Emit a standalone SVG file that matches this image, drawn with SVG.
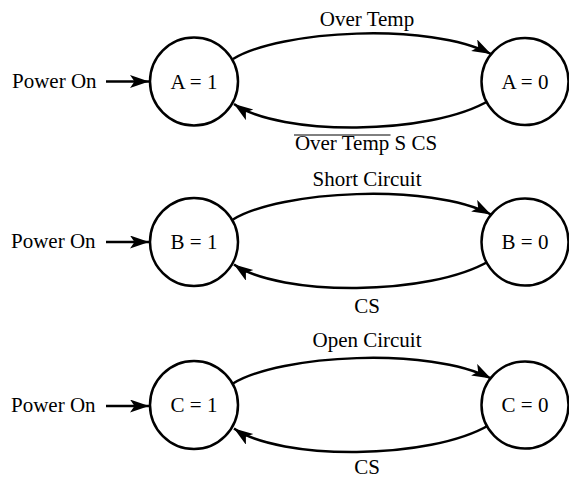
<svg xmlns="http://www.w3.org/2000/svg" width="569" height="479" viewBox="0 0 569 479">
<defs>
<style>
text{font-family:"Liberation Serif","Times New Roman",serif;font-size:21px;fill:#000}
.mid{text-anchor:middle}
.st{fill:#fff;stroke:#000;stroke-width:2.5}
.c{fill:none;stroke:#000;stroke-width:2.5}
</style>
<marker id="ah" markerUnits="userSpaceOnUse" markerWidth="22" markerHeight="14" refX="19" refY="6.5" orient="auto" viewBox="0 0 22 14">
<path d="M0,0 L19,6.5 L0,13 L4.5,6.5 z" fill="#000"/>
</marker>
</defs>
<g id="connectors">
<line class="c" x1="106" y1="81.5" x2="149" y2="81.5" marker-end="url(#ah)"/>
<path class="c" d="M233,59 C280,30 430,22 491,54" marker-end="url(#ah)"/>
<path class="c" d="M490,100 C430,136 280,136 234,104" marker-end="url(#ah)"/>
<line class="c" x1="106" y1="242" x2="149" y2="242" marker-end="url(#ah)"/>
<path class="c" d="M233,219.5 C280,190.5 430,182.5 491,214.5" marker-end="url(#ah)"/>
<path class="c" d="M490,260.5 C430,296.5 280,296.5 234,264.5" marker-end="url(#ah)"/>
<line class="c" x1="106" y1="406" x2="149" y2="406" marker-end="url(#ah)"/>
<path class="c" d="M233,383.5 C280,354.5 430,346.5 491,378.5" marker-end="url(#ah)"/>
<path class="c" d="M490,424.5 C430,460.5 280,460.5 234,428.5" marker-end="url(#ah)"/>
</g>
<g id="labels">
<text x="12" y="88">Power On</text>
<text class="mid" x="367" y="26">Over Temp</text>
<text class="mid" x="366" y="150">Over Temp S CS</text>
<line x1="294" y1="135" x2="390.5" y2="135" stroke="#000" stroke-width="1"/>
<text x="11" y="248">Power On</text>
<text class="mid" x="367" y="186">Short Circuit</text>
<text class="mid" x="367" y="313">CS</text>
<text x="11" y="412">Power On</text>
<text class="mid" x="367" y="347">Open Circuit</text>
<text class="mid" x="367" y="474">CS</text>
</g>
<g id="A1"><circle class="st" cx="194" cy="81.5" r="44"/><text class="mid" x="194" y="89">A = 1</text></g>
<g id="A0"><circle class="st" cx="525" cy="81.5" r="43.5"/><text class="mid" x="525" y="89">A = 0</text></g>
<g id="B1"><circle class="st" cx="194" cy="242" r="44"/><text class="mid" x="194" y="249">B = 1</text></g>
<g id="B0"><circle class="st" cx="525" cy="242" r="43.5"/><text class="mid" x="525" y="249">B = 0</text></g>
<g id="C1"><circle class="st" cx="194" cy="405" r="44"/><text class="mid" x="194" y="412">C = 1</text></g>
<g id="C0"><circle class="st" cx="525" cy="405" r="43.5"/><text class="mid" x="525" y="412">C = 0</text></g>
</svg>
